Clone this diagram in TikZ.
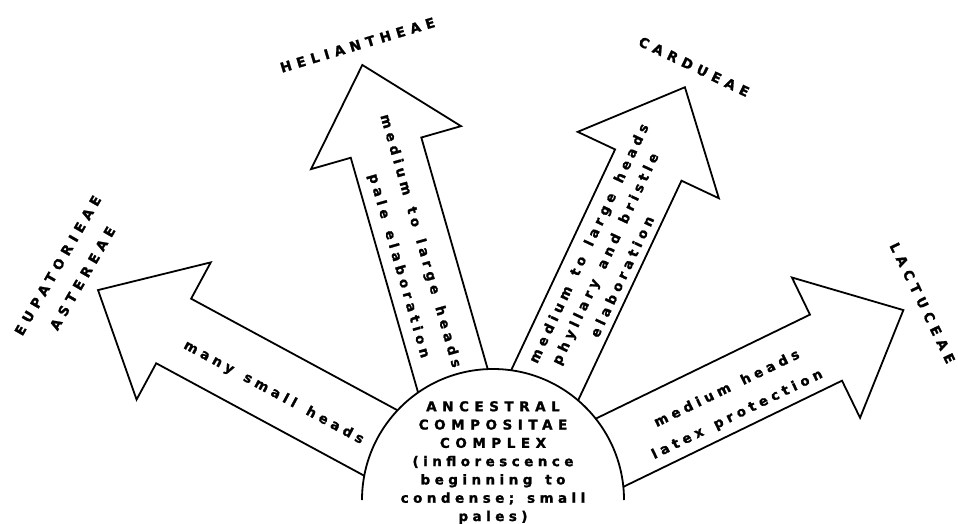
\documentclass[tikz,border=0pt]{standalone}
\usepackage{fontspec}
\setmainfont{DejaVu Sans}[LetterSpace=33, WordSpace=1.4, FakeBold=1.5]
\newfontfamily\capsf{DejaVu Sans}[LetterSpace=41, WordSpace=1.4, FakeBold=1.5]
\usetikzlibrary{calc}
\tikzset{
  lbl/.style={font=\fontsize{13.5}{18.3}\selectfont\bfseries, inner sep=0pt},
  caps/.style={font=\fontsize{13.5}{18.3}\selectfont\capsf\bfseries, inner sep=0pt},
  outline/.style={line width=1.8pt, line join=miter},
}
% block arrow: #1 unused, #2 axis offset, #3 tip distance from dome centre
\newcommand\blockarrow[3]{%
  \draw[outline] ({100*sqrt(1.7161-((#2+36.7)/100)^2)}, {#2+36.7})
    -- ({#3-86}, {#2+36.7}) -- ({#3-86}, {#2+78}) -- (#3, #2)
    -- ({#3-86}, {#2-78}) -- ({#3-86}, {#2-36.7})
    -- ({100*sqrt(1.7161-((#2-36.7)/100)^2)}, {#2-36.7});}
\begin{document}
\begin{tikzpicture}[x=1pt, y=1pt]
\useasboundingbox[fill=white] (0,0) rectangle (958,523);
\coordinate (O) at (493,23);
% dome
\draw[outline] (624,23) arc (0:180:131);
\node[lbl, align=center, anchor=north] (anc) at (493,122)
  {{\capsf ANCESTRAL}\\{\capsf COMPOSITAE}\\{\capsf COMPLEX}\\(inflorescence\\beginning to\\condense; small\\pales)};
% Eupatorieae / Astereae
\begin{scope}[shift={(O)}, rotate=151.6]
  \blockarrow{0}{3.2}{447.3}
  \node[lbl, transform shape, rotate=180] (t1) at (244,10) {many small heads};
\end{scope}
% Heliantheae
\begin{scope}[shift={(O)}, rotate=106.0]
  \blockarrow{0}{5.7}{454.2}
  \node[lbl, transform shape, rotate=180] (t2a) at (269,-1.2) {medium to large heads};
  \node[lbl, transform shape, rotate=180] (t2b) at (251,26.2) {pale elaboration};
\end{scope}
% Cardueae
\begin{scope}[shift={(O)}, rotate=64.8]
  \blockarrow{0}{2.1}{455.2}
  \node[lbl, transform shape] (t3a) at (273,21.5) {medium to large heads};
  \node[lbl, transform shape] (t3b) at (266,0) {phyllary and bristle};
  \node[lbl, transform shape] (t3c) at (257,-21.5) {elaboration};
\end{scope}
% Lactuceae
\begin{scope}[shift={(O)}, rotate=25.9]
  \blockarrow{0}{-8.4}{452.1}
  \node[lbl, transform shape] (t4a) at (259,-1) {medium heads};
  \node[lbl, transform shape] (t4b) at (257,-30) {latex protection};
\end{scope}
% tribe labels
\node[caps, rotate=60] (eup) at (57.8,257.5) {EUPATORIEAE};
\node[caps, rotate=60] (ast) at (82.5,244.7) {ASTEREAE};
\node[caps, rotate=16.7] (hel) at (357.5,478) {HELIANTHEAE};
\node[caps, rotate=-25.6] (car) at (694,456.3) {CARDUEAE};
\node[caps, rotate=-64.2] (lac) at (922.5,220) {LACTUCEAE};
\end{tikzpicture}
\end{document}
